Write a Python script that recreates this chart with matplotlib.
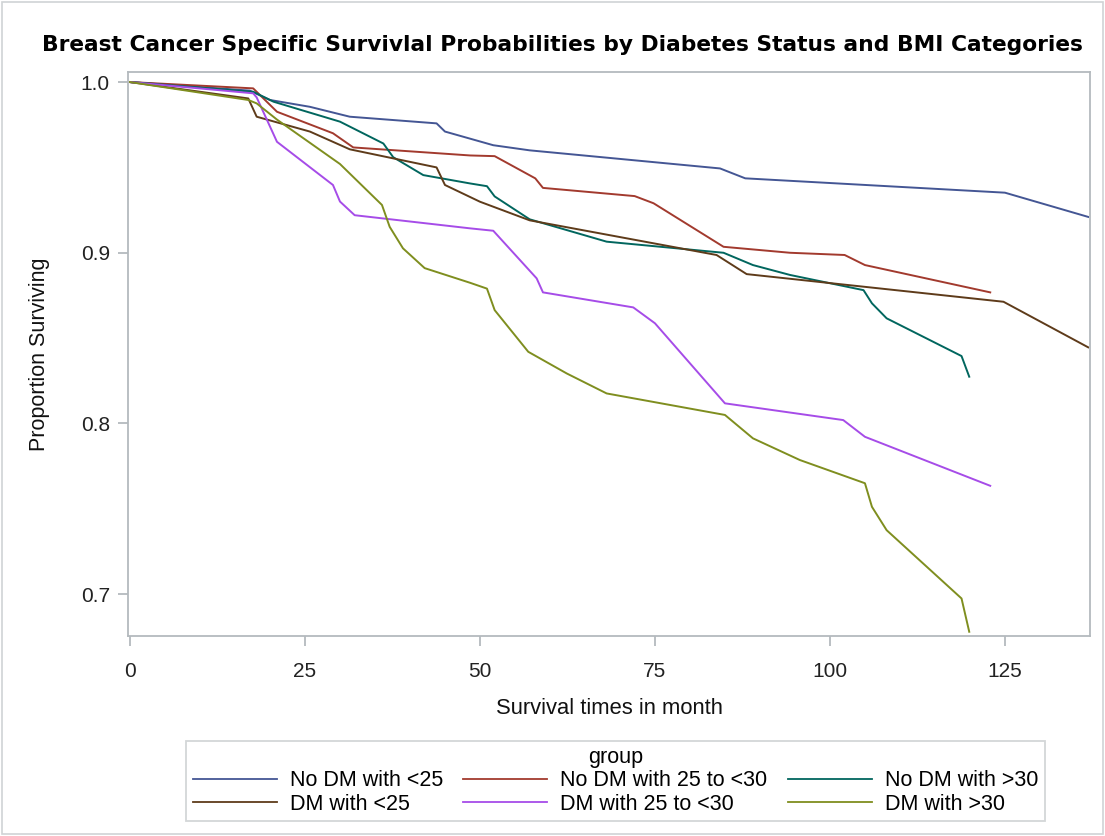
import matplotlib
matplotlib.use("Agg")
import matplotlib.pyplot as plt
from matplotlib.patches import Rectangle

plt.rcParams['font.family'] = ['Liberation Sans', 'DejaVu Sans']

# Kaplan-Meier style survival curves, months vs. proportion surviving
nodm_lt25_t = [0, 17.1, 20, 25.7, 31.4, 43.8, 45, 51.9, 57.1, 84.3, 87.9, 125, 136.9]
nodm_lt25_s = [1.0, 0.995, 0.9895, 0.9855, 0.9797, 0.9758, 0.971, 0.963, 0.960, 0.9494, 0.9436, 0.9352, 0.921]

nodm_25_30_t = [0, 17.6, 21, 29, 31.9, 48.6, 52.1, 57.9, 59, 72.1, 74.8, 84.8, 94.3, 102.1, 105, 122.9]
nodm_25_30_s = [1.0, 0.9963, 0.9826, 0.970, 0.9617, 0.957, 0.9566, 0.9436, 0.938, 0.9332, 0.929, 0.9035, 0.900, 0.8987, 0.8928, 0.8768]

nodm_gt30_t = [0, 17.6, 20.5, 30, 36.2, 37.6, 41.9, 48.6, 51, 52.1, 57.1, 68.1, 84.8, 89, 94.3, 104.8, 106, 108.1, 118.8, 119.9]
nodm_gt30_s = [1.0, 0.9943, 0.9885, 0.9768, 0.964, 0.956, 0.9455, 0.9406, 0.939, 0.933, 0.9196, 0.9065, 0.900, 0.8928, 0.887, 0.8781, 0.8704, 0.8616, 0.8395, 0.8274]

dm_lt25_t = [0, 16.9, 18.1, 25.7, 31.4, 43.8, 45, 50, 57.1, 83.8, 88.1, 124.8, 136.9]
dm_lt25_s = [1.0, 0.9904, 0.9797, 0.971, 0.9606, 0.950, 0.9397, 0.9299, 0.919, 0.8987, 0.8875, 0.8713, 0.8446]

dm_25_30_t = [0, 17.6, 18.1, 21, 29, 30, 32.1, 48.6, 51.9, 58.1, 59, 71.9, 75, 85, 101.9, 105, 122.9]
dm_25_30_s = [1.0, 0.9934, 0.991, 0.965, 0.9397, 0.930, 0.922, 0.9143, 0.9129, 0.885, 0.8768, 0.868, 0.8587, 0.8118, 0.802, 0.7922, 0.7635]

dm_gt30_t = [0, 16.9, 18.1, 21, 30, 36, 37.1, 39, 42.1, 48.6, 51, 52.1, 56.9, 62.4, 68.1, 85, 89, 95.7, 105, 106, 108.1, 118.8, 119.9]
dm_gt30_s = [1.0, 0.9895, 0.9875, 0.978, 0.952, 0.928, 0.9152, 0.9026, 0.891, 0.8824, 0.879, 0.8664, 0.842, 0.8293, 0.8176, 0.805, 0.7913, 0.7786, 0.765, 0.7512, 0.7375, 0.6975, 0.678]

groups = ["No DM with <25", "No DM with 25 to <30", "No DM with >30",
          "DM with <25", "DM with 25 to <30", "DM with >30"]
colors = ["#445694", "#A23A2E", "#01665E", "#5E3B1A", "#A64CE8", "#7F8E1F"]
series = [(nodm_lt25_t, nodm_lt25_s), (nodm_25_30_t, nodm_25_30_s), (nodm_gt30_t, nodm_gt30_s),
          (dm_lt25_t, dm_lt25_s), (dm_25_30_t, dm_25_30_s), (dm_gt30_t, dm_gt30_s)]

x_ticks = [0, 25, 50, 75, 100, 125]
y_ticks = [0.7, 0.8, 0.9, 1.0]

fig = plt.figure(figsize=(11.05, 8.36), dpi=100)
ax = fig.add_axes([0.1158, 0.2392, 0.8706, 0.6747])

handles = []
for (t, s), name, c in zip(series, groups, colors):
    h, = ax.plot(t, s, color=c, lw=1.4, label=name)
    handles.append(h)

ax.set_xlim(-0.29, 137.15)
ax.set_ylim(0.6755, 1.0059)
ax.set_xticks(x_ticks)
ax.set_xticklabels([str(v) for v in x_ticks])
ax.set_yticks(y_ticks)
ax.set_yticklabels([f"{v:.1f}" for v in y_ticks])

frame_c = "#B4BABE"
for sp in ax.spines.values():
    sp.set_color(frame_c)
    sp.set_linewidth(1.3)
ax.tick_params(axis='both', colors=frame_c, labelcolor="#222222", labelsize=15,
               length=7, width=1.3, direction='out', pad=6)
ax.tick_params(axis='x', pad=12)

ax.set_xlabel("Survival times in month", fontsize=15.8, color="#111111", labelpad=12)
ax.set_ylabel("Proportion Surviving", fontsize=15.5, color="#111111", labelpad=22)
fig.text(0.509, 0.946,
         "Breast Cancer Specific Survivlal Probabilities by Diabetes Status and BMI Categories",
         fontsize=15.7, fontweight='bold', family='DejaVu Sans', ha='center', va='center')

order = [0, 3, 1, 4, 2, 5]
leg = fig.legend([handles[i] for i in order], [groups[i] for i in order],
                 ncol=3, title="group", loc='center', bbox_to_anchor=(0.557, 0.0658),
                 fontsize=15.5, title_fontsize=15.5, frameon=True, fancybox=False,
                 handlelength=3.9, handletextpad=0.6, columnspacing=0.95,
                 borderpad=0.3, labelspacing=0.1)
leg.get_frame().set_edgecolor("#C8CCCE")
leg.get_frame().set_linewidth(1.3)
for ln in leg.get_lines():
    ln.set_linewidth(1.3)

# thin border around the whole graph
fig.patches.append(Rectangle((0.002, 0.002), 0.996, 0.996, transform=fig.transFigure,
                             fill=False, edgecolor="#D0D3D5", lw=1.2))

fig.savefig("out.png", dpi=100)
